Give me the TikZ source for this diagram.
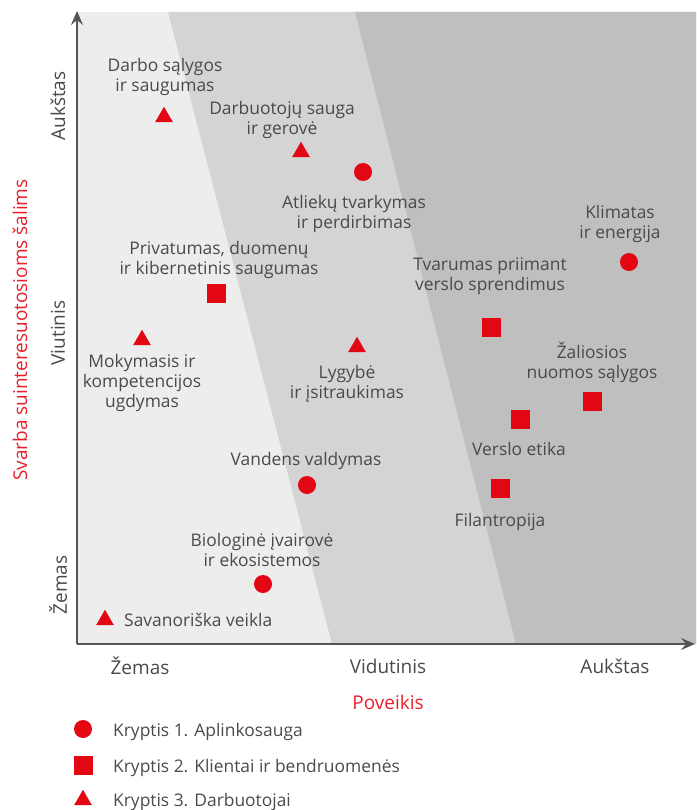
\documentclass[tikz,border=0pt]{standalone}
\usepackage{fontspec}
\setmainfont{Open Sans}
\usepackage{tikz}
\usetikzlibrary{arrows.meta,shapes.geometric}
\definecolor{txt}{HTML}{4A4A4A}
\definecolor{mark}{HTML}{E30613}
\definecolor{ttl}{HTML}{E8202A}
\definecolor{axis}{HTML}{555555}
\definecolor{lowband}{HTML}{EDEDED}
\definecolor{midband}{HTML}{D4D4D4}
\definecolor{highband}{HTML}{BFBFBF}
\tikzset{
  axisline/.style={draw=axis, line width=1.8pt, -{Stealth[length=14pt,width=12pt,inset=5pt]}},
  circmark/.style={circle, fill=mark, inner sep=0pt, minimum size=18pt},
  sqmark/.style={rectangle, fill=mark, inner sep=0pt, minimum size=19pt},
  trimark/.style={regular polygon, regular polygon sides=3, fill=mark, inner sep=0pt, minimum size=20.5pt},
  lbl/.style={text=txt, align=center, inner sep=0pt, yshift=-2pt, font=\fontsize{17.4}{20}\selectfont},
  tick/.style={text=txt, inner sep=0pt, font=\fontsize{19}{22}\selectfont},
  axtitle/.style={text=ttl, inner sep=0pt, font=\fontsize{19}{22}\selectfont}
}

\begin{document}
\begin{tikzpicture}[x=1pt,y=-1pt]
  \useasboundingbox (0,0) rectangle (696,810);

  % bands
  \fill[lowband] (77,12) rectangle (696,644);
  \fill[midband] (168,12) -- (696,12) -- (696,644) -- (332,644) -- cycle;
  \fill[highband] (355,12) -- (696,12) -- (696,644) -- (516,644) -- cycle;

  % axes
  \coordinate (O) at (77,644);
  \coordinate (ytop) at (77,11);
  \coordinate (xend) at (695,644);
  \draw[axisline] (O) -- (ytop);
  \draw[axisline] (O) -- (xend);

  \node[tick, rotate=90] (ylow) at (58,585) {Žemas};
  \node[tick, rotate=90] (ymid) at (58,333) {Viutinis};
  \node[tick, rotate=90] (yhigh) at (58,106) {Aukštas};
  \node[axtitle, rotate=90] (ytitle) at (20,330) {Svarba suinteresuotosioms šalims};

  \node[tick] (xlow) at (140,666) {Žemas};
  \node[tick] (xmid) at (388,666) {Vidutinis};
  \node[tick] (xhigh) at (615,666) {Aukštas};
  \node[axtitle] (xtitle) at (388,702) {Poveikis};

  % Kryptis 1
  \node[circmark] (atl) at (363,172) {};
  \node[lbl] (atlL) at (354,212) {Atliekų tvarkymas\\ir perdirbimas};
  \node[circmark] (kli) at (629,262) {};
  \node[lbl] (kliL) at (620,222) {Klimatas\\ir energija};
  \node[circmark] (van) at (307,485) {};
  \node[lbl] (vanL) at (306,459) {Vandens valdymas};
  \node[circmark] (bio) at (263,584) {};
  \node[lbl] (bioL) at (262,548) {Biologinė įvairovė\\ir ekosistemos};

  % Kryptis 2
  \node[sqmark] (pri) at (216,293) {};
  \node[lbl] (priL) at (219,258) {Privatumas, duomenų\\ir kibernetinis saugumas};
  \node[sqmark] (tva) at (491,327) {};
  \node[lbl] (tvaL) at (490,274) {Tvarumas priimant\\verslo sprendimus};
  \node[sqmark] (zal) at (592,401) {};
  \node[lbl] (zalL) at (592,360) {Žaliosios\\nuomos sąlygos};
  \node[sqmark] (ver) at (520,419) {};
  \node[lbl] (verL) at (519,447) {Verslo etika};
  \node[sqmark] (fil) at (500,488) {};
  \node[lbl] (filL) at (500,520) {Filantropija};

  % Kryptis 3
  \node[trimark] (dar) at (164,117) {};
  \node[lbl] (darL) at (165,75) {Darbo sąlygos\\ir saugumas};
  \node[trimark] (dsg) at (301,152) {};
  \node[lbl] (dsgL) at (282,118) {Darbuotojų sauga\\ir gerovė};
  \node[trimark] (mok) at (142,340) {};
  \node[lbl] (mokL) at (142,381) {Mokymasis ir\\kompetencijos\\ugdymas};
  \node[trimark] (lyg) at (357,347) {};
  \node[lbl] (lygL) at (347,382) {Lygybė\\ir įsitraukimas};
  \node[trimark] (sav) at (105,620) {};
  \node[lbl, anchor=west] (savL) at (124,618) {Savanoriška veikla};

  % legend
  \node[circmark] (leg1) at (83,729) {};
  \node[lbl, anchor=west] (leg1L) at (113,730) {Kryptis 1. Aplinkosauga};
  \node[sqmark] (leg2) at (83,765) {};
  \node[lbl, anchor=west] (leg2L) at (113,766) {Kryptis 2. Klientai ir bendruomenės};
  \node[trimark] (leg3) at (83,800) {};
  \node[lbl, anchor=west] (leg3L) at (113,800) {Kryptis 3. Darbuotojai};
\end{tikzpicture}
\end{document}
